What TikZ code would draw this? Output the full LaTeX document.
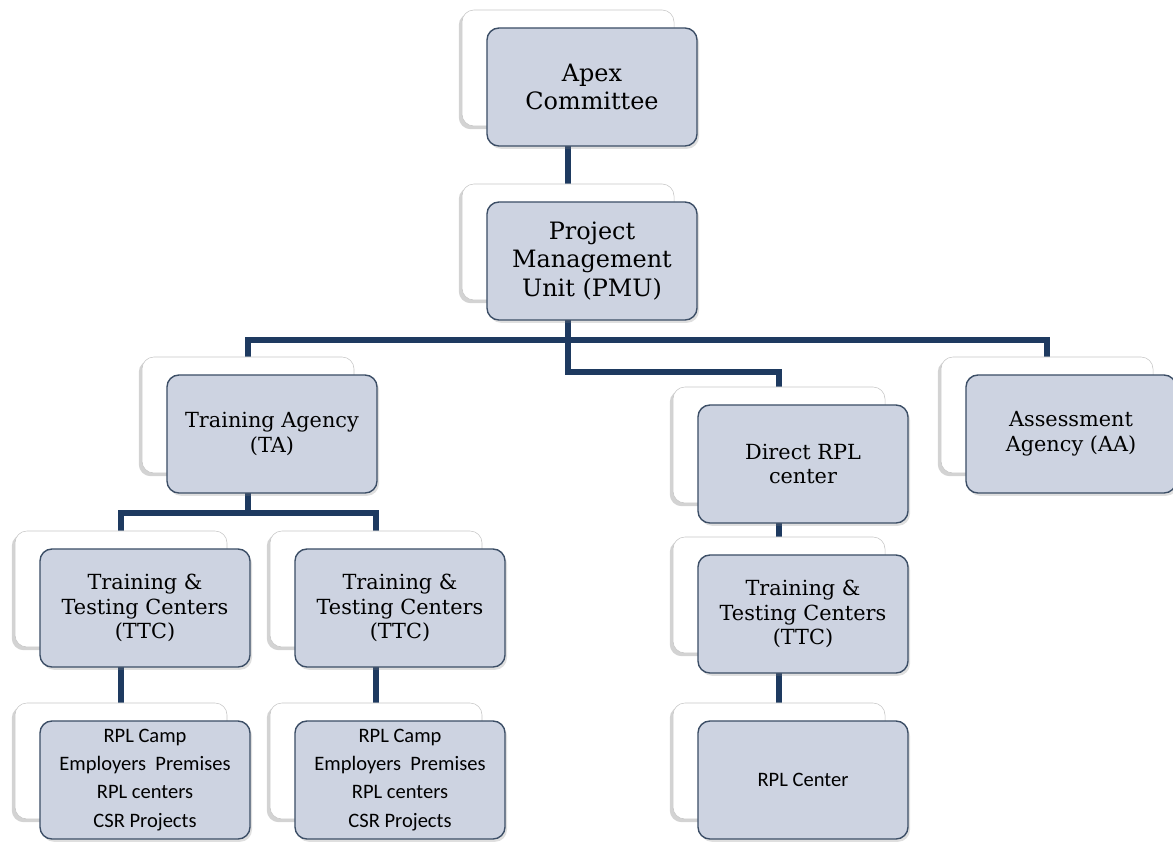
\documentclass[tikz,border=0pt]{standalone}
\usepackage{fontspec}
\setmainfont{DejaVu Serif}
\newfontfamily\sitefont{Carlito}
\usetikzlibrary{backgrounds,shadows}

\definecolor{frontfill}{RGB}{205,211,225}
\definecolor{frontline}{RGB}{60,78,102}
\definecolor{linkblue}{RGB}{30,58,96}

\tikzset{
  backbox/.style={draw=black!22, fill=white, rounded corners=0.3cm,
    minimum width=5.3cm, minimum height=2.9cm,
    drop shadow={opacity=0.35, shadow xshift=-0.08cm, shadow yshift=-0.08cm}},
  frontbox/.style={draw=frontline, line width=1pt, fill=frontfill, rounded corners=0.3cm,
    minimum width=5.25cm, minimum height=2.95cm, align=center,
    drop shadow={opacity=0.25, shadow xshift=0.05cm, shadow yshift=-0.07cm}},
  bigtext/.style={font=\fontsize{17}{20.5}\selectfont},
  midtext/.style={font=\fontsize{14.8}{17.5}\selectfont},
  sitetext/.style={font=\sitefont\fontsize{14.6}{20}\selectfont},
  link/.style={draw=linkblue, line width=3.6pt}
}

\begin{document}
\begin{tikzpicture}[x=0.025cm,y=-0.025cm]

\useasboundingbox (0,0) rectangle (1173,843);

% top
\node(apex)[backbox] at (568,68) {};
\node(apexF)[frontbox,bigtext] at (592,87) {Apex\\Committee};

\node(pmu)[backbox] at (568,242) {};
\node(pmuF)[frontbox,bigtext] at (592,261) {Project\\Management\\Unit (PMU)};

% second row
\node(ta)[backbox] at (248,415) {};
\node(taF)[frontbox,midtext] at (272,434) {Training Agency\\(TA)};

\node(drpl)[backbox] at (779,445) {};
\node(drplF)[frontbox,midtext] at (803,464) {Direct RPL\\center};

\node(aa)[backbox] at (1047,415) {};
\node(aaF)[frontbox,midtext] at (1071,434) {Assessment\\Agency (AA)};

% testing centers
\node(ttcA)[backbox] at (121,589) {};
\node(ttcAF)[frontbox,midtext] at (145,608) {Training \&\\Testing Centers\\(TTC)};

\node(ttcB)[backbox] at (376,589) {};
\node(ttcBF)[frontbox,midtext] at (400,608) {Training \&\\Testing Centers\\(TTC)};

\node(ttcC)[backbox] at (779,595) {};
\node(ttcCF)[frontbox,midtext] at (803,614) {Training \&\\Testing Centers\\(TTC)};

% sites
\node(siteA)[backbox] at (121,761) {};
\node(siteAF)[frontbox,sitetext] at (145,780) {RPL Camp\\Employers~~Premises\\RPL centers\\CSR Projects};

\node(siteB)[backbox] at (376,761) {};
\node(siteBF)[frontbox,sitetext] at (400,780) {RPL Camp\\Employers~~Premises\\RPL centers\\CSR Projects};

\node(rplc)[backbox] at (779,761) {};
\node(rplcF)[frontbox,sitetext] at (803,780) {RPL Center};

\coordinate(bus) at (568,340);
\coordinate(bus2) at (568,372);
\coordinate(tabus) at (248,513);

\begin{scope}[on background layer]
\draw[link] (apex) -- (pmu);
\draw[link] (pmu) -- (bus);
\draw[link] (bus) -| (ta);
\draw[link] (bus) -| (aa);
\draw[link] (bus) -- (bus2) -| (drpl);
\draw[link] (ta) -- (tabus);
\draw[link] (tabus) -| (ttcA);
\draw[link] (tabus) -| (ttcB);
\draw[link] (drpl) -- (ttcC);
\draw[link] (ttcA) -- (siteA);
\draw[link] (ttcB) -- (siteB);
\draw[link] (ttcC) -- (rplc);
\end{scope}

\end{tikzpicture}
\end{document}
